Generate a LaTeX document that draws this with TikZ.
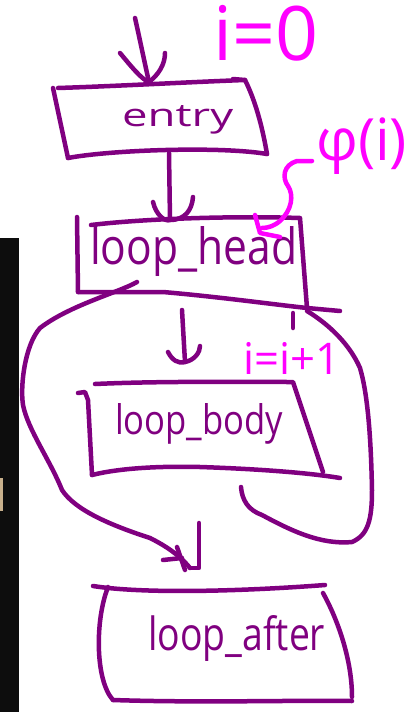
\documentclass[tikz,border=0pt]{standalone}
\usepackage{fontspec}
\setmainfont{Open Sans}
\usepackage{graphicx}
\definecolor{ink}{RGB}{128,0,128}
\definecolor{pink}{RGB}{255,0,255}
\definecolor{strip}{RGB}{13,13,13}
\definecolor{tan}{RGB}{200,176,140}
\newcommand{\hw}[2]{\resizebox{#1}{!}{#2}}
\newcommand{\hwh}[3]{\resizebox{#1}{#2}{#3}}
\begin{document}
\begin{tikzpicture}[x=1pt,y=-1pt,
  pen/.style={draw=ink,line width=4.5pt,line cap=round,line join=round},
  mpen/.style={draw=pink,line width=4.5pt,line cap=round,line join=round},
  lbl/.style={inner sep=0pt,anchor=base west,text=ink},
  mlbl/.style={inner sep=0pt,anchor=base west,text=pink}]
\useasboundingbox (0,0) rectangle (410,712);
\fill[white] (0,0) rectangle (410,712);
% left dark strip
\fill[strip] (0,238) rectangle (19,712);
\fill[tan] (0,478) rectangle (2.5,511);

% ---------- coordinates ----------
\coordinate (start) at (135,18);
\coordinate (entryTop) at (149,82);
\coordinate (entryBot) at (169,153);
\coordinate (headTop) at (170,220);
\coordinate (headBot) at (182,310);
\coordinate (bodyTop) at (185,362);
\coordinate (headExit) at (137,282);
\coordinate (afterIn) at (190,568);
\coordinate (bodyExit) at (241,487);
\coordinate (headBackIn) at (307,311);
\coordinate (phiTail) at (312,161);
\coordinate (phiTip) at (262,228);

% ---------- boxes ----------
% entry
\draw[pen] (58,88) .. controls (120,86) and (190,82) .. (245,80) -- (233,79);
\draw[pen] (245,80) .. controls (255,100) and (262,125) .. (267,154);
\draw[pen] (53,88) -- (68,158);
\draw[pen] (68,158) .. controls (110,150) and (220,146) .. (267,154);
\node[lbl] (entry) at (122,126) {\hwh{111pt}{21pt}{entry}};

% loop_head
\draw[pen] (77,217) -- (78,292);
\draw[pen] (91,225) .. controls (150,218) and (240,216) .. (300,218) -- (307,308);
\draw[pen] (78,292) -- (163,292) .. controls (220,297) and (270,304) .. (307,308) -- (340,311);
\node[lbl] (head) at (90,264) {\hwh{207pt}{38pt}{loop\_head}};

% loop_body
\draw[pen] (78,393) -- (85,392) -- (88,400) -- (92,475);
\draw[pen] (95,384) .. controls (160,381) and (240,382) .. (293,382) -- (323,472);
\draw[pen] (92,475) .. controls (120,468) and (160,466) .. (200,467) .. controls (260,469) and (310,473) .. (340,478);
\node[lbl] (body) at (115,434) {\hwh{168pt}{31pt}{loop\_body}};

% loop_after
\draw[pen] (93,586) .. controls (150,595) and (260,590) .. (325,585);
\draw[pen] (108,587) .. controls (95,620) and (95,680) .. (113,700);
\draw[pen] (113,700) .. controls (200,703) and (300,700) .. (352,701);
\draw[pen] (323,593) .. controls (338,620) and (352,660) .. (352,697);
\node[lbl] (after) at (148,650) {\hwh{177pt}{35pt}{loop\_after}};

% ---------- connectors ----------
% entry in
\draw[pen] (start) .. controls (140,40) and (144,60) .. (entryTop);
\draw[pen] (120,53) .. controls (130,65) and (142,80) .. (entryTop) .. controls (158,75) and (165,65) .. (165,53);
% entry -> loop_head
\draw[pen] (entryBot) -- (headTop);
\draw[pen] (153,202) .. controls (156,215) and (165,222) .. (headTop) .. controls (185,220) and (192,210) .. (193,197);
% loop_head -> loop_body
\draw[pen] (headBot) -- (bodyTop);
\draw[pen] (168,352) .. controls (172,360) and (178,364) .. (bodyTop) .. controls (195,360) and (200,352) .. (200,346);
% loop_body -> loop_head (back edge)
\draw[pen] (bodyExit) .. controls (242,500) and (248,510) .. (262,515)
  .. controls (290,530) and (320,545) .. (352,542)
  .. controls (368,535) and (372,520) .. (372,490)
  .. controls (371,440) and (368,395) .. (360,368)
  .. controls (350,345) and (330,325) .. (headBackIn);
\draw[pen] (293,313) -- (293,328);
% loop_head -> loop_after (exit edge)
\draw[pen] (headExit) .. controls (120,292) and (70,305) .. (40,328)
  .. controls (25,345) and (20,385) .. (23,405)
  .. controls (28,430) and (50,460) .. (62,490)
  .. controls (75,510) and (110,525) .. (150,538)
  .. controls (170,548) and (182,558) .. (afterIn);
\draw[pen] (199,523) -- (199,568) -- (afterIn);
\draw[pen] (163,560) -- (182,558);
\draw[pen] (177,547) -- (185,570);

% ---------- magenta annotations ----------
\node[mlbl] (izero) at (213,60) {\hw{105pt}{i=0}};
\node[mlbl] (iinc) at (243,374) {\hw{97pt}{i=i+1}};
\node[mlbl] (phi) at (316,160) {\hw{91pt}{φ(i)}};
\draw[mpen] (phiTail) -- (297,161) .. controls (283,165) and (282,178) .. (288,186)
  .. controls (294,195) and (292,210) .. (280,221) .. controls (274,226) and (268,228) .. (phiTip);
\draw[mpen] (255,215) -- (260,233) -- (280,237);
\end{tikzpicture}
\end{document}
